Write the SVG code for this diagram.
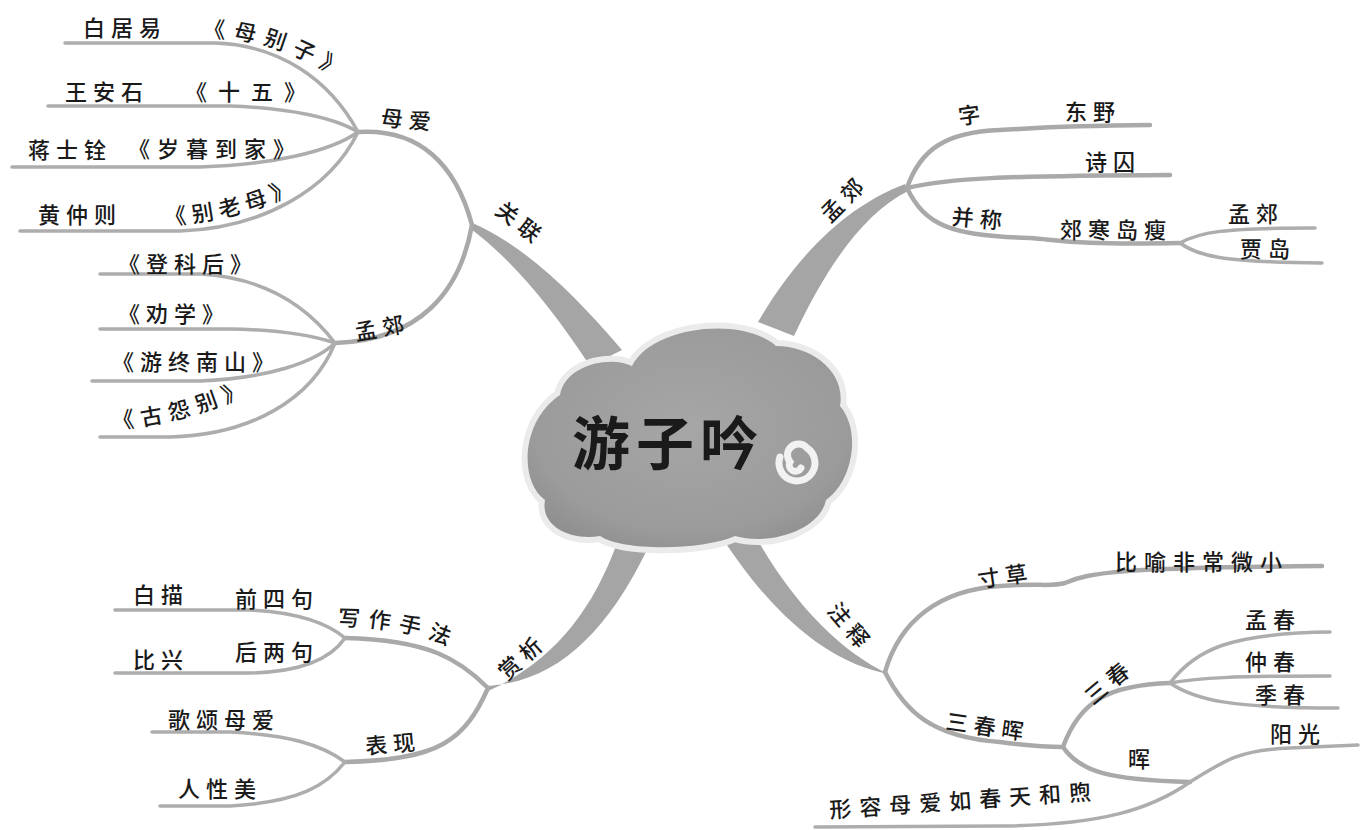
<svg xmlns="http://www.w3.org/2000/svg" width="1363" height="830" viewBox="0 0 1363 830">
<style>
.t{font-family:"Noto Sans CJK SC","Noto Sans CJK JP",sans-serif;font-size:22px;font-weight:500;fill:#1a1a1a;letter-spacing:6px}
.c{text-anchor:middle;dominant-baseline:central}
.l{fill:none;stroke:#adadad;stroke-width:3.5;stroke-linecap:round}
.l2{fill:none;stroke:#a9a9a9;stroke-width:4.5;stroke-linecap:round}
.m{fill:#a5a5a5}
</style>
<defs>
<radialGradient id="cg" cx="0.5" cy="0.45" r="0.6">
<stop offset="0" stop-color="#a6a6a6"/>
<stop offset="0.8" stop-color="#9b9b9b"/>
<stop offset="1" stop-color="#909090"/>
</radialGradient>
<path id="p1" d="M 203,38 C 245,36 288,46 348,84"/>
<path id="p2" d="M 165,225 C 220,222 262,210 308,186"/>
<path id="p3" d="M 113,429 C 170,425 215,410 262,388"/>
<path id="p4" d="M 338,626 C 382,626 430,632 480,662"/>
</defs>
<rect width="1363" height="830" fill="#ffffff"/>
<g id="connectors">
<path class="m" d="M 470,222 C 525,245 575,295 622,350 L 590,366 C 550,305 512,260 471,229 Z"/>
<path class="m" d="M 905,184 C 850,205 800,250 758,322 L 794,336 C 825,270 862,214 908,191 Z"/>
<path class="m" d="M 488,691 C 545,665 590,620 618,540 L 646,552 C 605,635 555,682 487,686 Z"/>
<path class="m" d="M 714,525 L 752,530 C 790,600 838,650 888,674 C 826,662 768,612 714,525 Z"/>
<path class="l2" d="M 358,132 C 420,128 456,165 472,225"/>
<path class="l" d="M 65,43 L 215,43 C 280,45 330,80 358,132"/>
<path class="l" d="M 48,106 L 230,106 C 290,108 335,118 358,132"/>
<path class="l" d="M 12,167 L 200,167 C 270,165 330,152 358,132"/>
<path class="l" d="M 20,231 L 180,231 C 262,228 330,190 358,132"/>
<path class="l2" d="M 472,225 C 460,292 420,340 335,343"/>
<path class="l" d="M 100,274 L 200,274 C 270,278 310,310 335,343"/>
<path class="l" d="M 100,329 L 230,329 C 290,330 320,338 335,343"/>
<path class="l" d="M 92,381 L 200,381 C 270,378 315,362 335,343"/>
<path class="l" d="M 100,437 L 170,437 C 250,435 312,400 335,343"/>
<path class="l2" d="M 907,188 C 920,150 945,132 1000,130 C 1040,128 1050,126 1150,125"/>
<path class="l2" d="M 907,188 C 950,178 1000,176 1170,175"/>
<path class="l2" d="M 907,188 C 925,225 950,236 1030,238 C 1060,240 1070,245 1180,243"/>
<path class="l" d="M 1180,243 C 1200,232 1222,228 1315,228"/>
<path class="l" d="M 1180,243 C 1200,258 1230,262 1322,263"/>
<path class="l2" d="M 488,688 C 460,660 430,640 345,638"/>
<path class="l" d="M 115,610 L 250,610 C 300,612 330,625 345,638"/>
<path class="l" d="M 115,673 L 250,673 C 300,672 330,660 345,638"/>
<path class="l2" d="M 488,688 C 465,740 440,760 345,762"/>
<path class="l" d="M 152,732 L 230,732 C 290,735 322,745 345,762"/>
<path class="l" d="M 160,806 L 230,806 C 300,802 327,785 345,762"/>
<path class="l2" d="M 885,672 C 900,620 940,590 1000,586 C 1040,583 1052,587 1065,583 C 1090,572 1120,568 1322,566"/>
<path class="l2" d="M 885,672 C 905,712 932,737 1000,742 C 1030,746 1050,747 1063,747"/>
<path class="l2" d="M 1063,747 C 1080,700 1110,685 1170,683"/>
<path class="l" d="M 1170,683 C 1195,650 1230,633 1330,632"/>
<path class="l" d="M 1170,683 C 1200,678 1230,676 1330,676"/>
<path class="l" d="M 1170,683 C 1195,700 1230,708 1338,708"/>
<path class="l2" d="M 1063,747 C 1080,772 1110,780 1190,782"/>
<path class="l" d="M 1190,782 C 1225,760 1240,750 1290,748 L 1358,745"/>
<path class="l" d="M 1190,782 C 1150,810 1100,825 1000,826 L 815,827"/>
</g>
<g id="center">
<path d="M 545,500 C 518,480 522,420 560,395 C 565,365 610,355 632,366 C 652,326 742,316 776,346 C 812,346 846,372 840,406 C 862,432 852,482 826,500 C 820,530 770,546 735,536 C 700,551 622,551 600,536 C 570,541 540,526 545,500 Z" fill="none" stroke="#ebebeb" stroke-width="12" stroke-linejoin="round"/>
<path d="M 545,500 C 518,480 522,420 560,395 C 565,365 610,355 632,366 C 652,326 742,316 776,346 C 812,346 846,372 840,406 C 862,432 852,482 826,500 C 820,530 770,546 735,536 C 700,551 622,551 600,536 C 570,541 540,526 545,500 Z" fill="url(#cg)"/>
<path d="M 780,457 A 18 18 0 1 0 807,448 A 11 11 0 0 0 790,462 A 6 6 0 0 0 801,468" fill="none" stroke="#f2f2f2" stroke-width="7" stroke-linecap="round"/>
<text class="t" x="668" y="465" text-anchor="middle" style="font-size:58px;letter-spacing:6px;font-weight:600">游子吟</text>
</g>
<g id="n-guanlian"><text class="t c" transform="translate(522,222) rotate(38)">关联</text></g>
<g id="n-muai"><text class="t c" transform="translate(409,118) rotate(5)">母爱</text></g>
<g id="n-bai"><text class="t" x="83" y="36">白居易</text><text class="t" style="letter-spacing:8px"><textPath href="#p1">《母别子》</textPath></text></g>
<g id="n-wang"><text class="t" x="65" y="100">王安石</text><text class="t" x="185" y="100" style="letter-spacing:11px">《十五》</text></g>
<g id="n-jiang"><text class="t" x="28" y="158">蒋士铨</text><text class="t" x="128" y="157" style="letter-spacing:7px">《岁暮到家》</text></g>
<g id="n-huang"><text class="t" x="38" y="223">黄仲则</text><text class="t"><textPath href="#p2">《别老母》</textPath></text></g>
<g id="n-mengjiao-l"><text class="t c" transform="translate(382,326) rotate(-10)">孟郊</text></g>
<g id="n-dengke"><text class="t" x="118" y="272">《登科后》</text></g>
<g id="n-quanxue"><text class="t" x="118" y="322">《劝学》</text></g>
<g id="n-youzhong"><text class="t" x="112" y="370">《游终南山》</text></g>
<g id="n-guyuan"><text class="t" style="letter-spacing:7px"><textPath href="#p3">《古怨别》</textPath></text></g>
<g id="n-mengjiao-r"><text class="t c" transform="translate(843,197) rotate(-45)">孟郊</text></g>
<g id="n-zi"><text class="t c" transform="translate(972,113) rotate(-8)">字</text></g>
<g id="n-dongye"><text class="t" x="1065" y="120">东野</text></g>
<g id="n-shiqiu"><text class="t" x="1085" y="170">诗囚</text></g>
<g id="n-bingcheng"><text class="t c" transform="translate(980,217) rotate(5)">并称</text></g>
<g id="n-jiaohan"><text class="t" x="1060" y="238">郊寒岛瘦</text></g>
<g id="n-mj2"><text class="t" x="1228" y="222">孟郊</text></g>
<g id="n-jiadao"><text class="t" x="1240" y="257">贾岛</text></g>
<g id="n-shangxi"><text class="t c" transform="translate(521,655) rotate(-42)">赏析</text></g>
<g id="n-xiezuo"><text class="t" style="letter-spacing:8px"><textPath href="#p4">写作手法</textPath></text></g>
<g id="n-baimiao"><text class="t" x="133" y="603">白描</text><text class="t" x="235" y="607">前四句</text></g>
<g id="n-bixing"><text class="t" x="133" y="668">比兴</text><text class="t" x="235" y="660">后两句</text></g>
<g id="n-biaoxian"><text class="t c" transform="translate(393,742) rotate(-5)">表现</text></g>
<g id="n-gesong"><text class="t" x="168" y="728">歌颂母爱</text></g>
<g id="n-renxing"><text class="t" x="178" y="797">人性美</text></g>
<g id="n-zhushi"><text class="t c" transform="translate(852,626) rotate(50)">注释</text></g>
<g id="n-cuncao"><text class="t c" transform="translate(1005,574) rotate(-8)">寸草</text></g>
<g id="n-biyu"><text class="t" x="1115" y="570" style="letter-spacing:7px">比喻非常微小</text></g>
<g id="n-sanchunhui"><text class="t c" transform="translate(988,725) rotate(8)">三春晖</text></g>
<g id="n-sanchun"><text class="t c" transform="translate(1108,680) rotate(-40)">三春</text></g>
<g id="n-mengchun"><text class="t" x="1245" y="628">孟春</text></g>
<g id="n-zhongchun"><text class="t" x="1245" y="670">仲春</text></g>
<g id="n-jichun"><text class="t" x="1255" y="703">季春</text></g>
<g id="n-hui"><text class="t c" transform="translate(1142,757)">晖</text></g>
<g id="n-yangguang"><text class="t" x="1270" y="742">阳光</text></g>
<g id="n-xingrong"><text class="t" transform="translate(830,818) rotate(-4)" style="letter-spacing:8px">形容母爱如春天和煦</text></g>
</svg>
